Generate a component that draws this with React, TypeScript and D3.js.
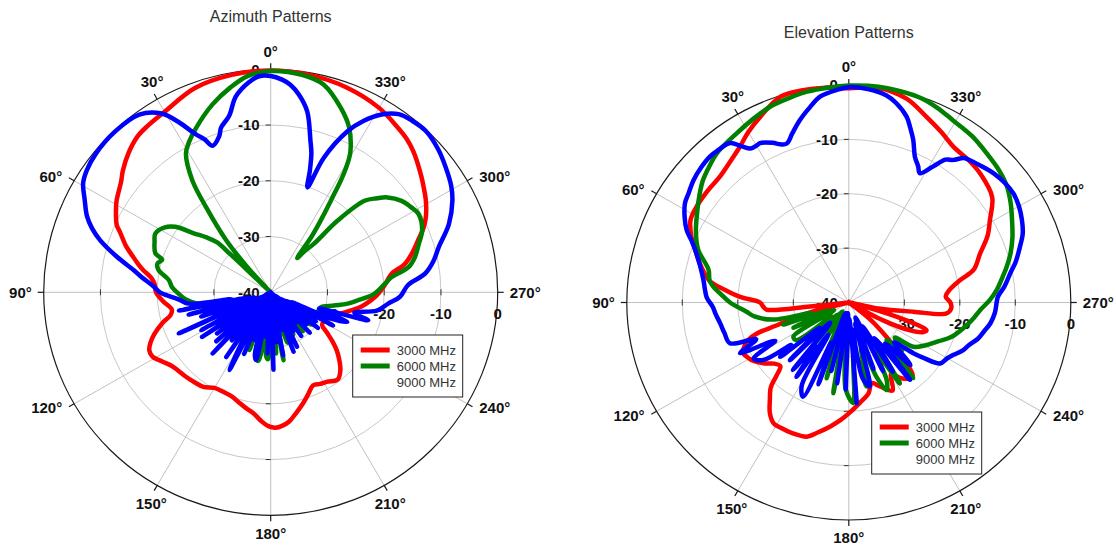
import React from 'react';
import * as d3 from 'd3';

// [angle in degrees, level in dB]
type Pt = [number, number];

const AZ_3000: Pt[] = [
  [0, -0.2], [10, -0.4], [20, -1.0], [30, -2.6], [36, -3.1], [40, -3.5], [45, -4.6], [50, -6.0], [53, -7.0],
  [59, -8.3], [63, -9.4], [66, -10.3], [68, -11.4], [72, -13.2], [75, -14.8], [78, -16.2], [80, -17.2], [83, -18.8],
  [86, -19.5], [90, -19.8], [95, -21], [100, -22.3], [103, -21.9], [106, -20.2], [110, -18.2], [113, -17],
  [116, -16.2], [119, -16.2], [123, -17.2], [127, -18.1], [131, -18.5], [135, -18.7], [140, -19], [145, -19.3],
  [150, -20.2], [155, -20.3], [160, -20.1], [164, -19.5], [168, -18.8], [172, -18.1], [176, -16.8], [179, -16],
  [182, -15.7], [185, -16], [188, -16.6], [192, -18], [196, -19.3], [200, -20.6], [204, -21.7], [208, -21.4],
  [212, -21.1], [217, -20.4], [221, -21.3], [224.5, -22.7], [228, -24.3], [231, -26], [234, -27.8], [237, -29.2],
  [241, -29.3], [246, -28.6], [250, -27.8], [253, -27], [257, -25.5], [261, -23.8], [265, -22.4], [268, -21.4],
  [272, -20.3], [276, -19.3], [279, -18.4], [282, -15.9], [286, -14], [290, -12.3], [293, -10.8], [296, -9.6],
  [301, -8.1], [305, -7.1], [308, -6.3], [315, -4.4], [319, -3.5], [323, -2.9], [330, -1.8], [340, -0.9], [350, -0.4],
];

const AZ_6000: Pt[] = [
  [0, -0.3], [6, -1.0], [11, -2.6], [17, -4.8], [24, -7.7], [28, -9.4], [31, -11], [34.5, -15.6], [36.7, -20.9],
  [40, -27.8], [42.6, -34.5], [44, -39], [45, -40], [46, -34], [46.2, -30], [46.5, -27], [49, -25], [52, -22.8],
  [55, -19.5], [58, -18], [62.6, -17.1], [66, -17.6], [71, -18.5], [73, -20], [75.5, -19.4], [78.5, -19.8],
  [83, -21.9], [87, -22.6], [91, -23.8], [95, -25], [99, -27], [102, -33], [105, -29], [108, -35], [112, -30.2],
  [116, -36], [120, -30.2], [123, -31], [126, -33], [129, -30.5], [132, -31], [135, -37], [138, -31.5],
  [141, -31.3], [145, -38], [150, -30], [155, -38], [160, -29], [164, -36], [167, -28], [170, -27.5], [173, -36],
  [176, -28.5], [178, -28], [181, -37], [185, -29], [188, -36], [190.5, -27.6], [194, -35], [198, -30.5],
  [203, -37], [208, -31.5], [213, -36], [219, -31], [225, -35], [231, -30.8], [237, -33], [243, -31.5], [248, -31],
  [253, -30.8], [258, -28.6], [261.5, -26.3], [265, -24.4], [269, -21.8], [274.4, -19.8], [277.3, -18.5],
  [280.5, -15.3], [284, -13.8], [288.4, -12.5], [292.6, -11.1], [298.3, -10.4], [302, -11], [305.4, -11.7],
  [309.6, -13.3], [312, -14.8], [314.8, -16.7], [317.5, -22.6], [318.8, -28.4], [321, -30.5], [322.8, -32.3],
  [324.3, -27.5], [326, -23.5], [327.2, -20.4], [328.5, -16], [330, -12.5], [331, -11], [334.9, -7.4],
  [339.5, -4.7], [345.9, -1.6], [352, -0.6],
];

const AZ_9000: Pt[] = [
  [0, -1.2], [3, -1.2], [6, -2.2], [10, -4.4], [13, -7.5], [16.5, -9.2], [18, -10.6], [21.3, -11.8], [23, -10.2],
  [25, -8.7], [28, -5.4], [31, -2.6], [36, -0.6], [43.5, -0.2], [51, -0.4], [56, -0.9], [59.4, -1.6], [63, -3.2],
  [67.2, -4.9], [70, -6.5], [72.7, -8.5], [76.7, -12.1], [80.6, -15.5], [83, -17], [87, -19.3], [90, -20.5],
  [92.8, -22.6], [95, -24], [98, -25.4], [100, -33], [101.5, -23.5], [104, -36], [105.5, -25], [108, -37],
  [109.5, -27], [112, -34], [114.5, -22.2], [117.5, -38], [119, -26], [122, -39], [123.5, -25.5], [126.5, -40],
  [128, -28], [131, -40], [132.5, -27], [135.5, -40], [137, -25], [140, -40], [141.5, -29], [144.5, -40], [146, -26],
  [149, -40], [150.5, -30], [152.5, -24.3], [155.5, -40], [157, -28], [160, -40], [161.5, -31], [164.5, -40],
  [166, -28.5], [168, -27.6], [171, -40], [172.5, -32], [175.5, -40], [177, -29], [180, -40], [182, -26.1],
  [185, -40], [186.5, -31], [189.5, -40], [191, -28.5], [194, -40], [195.5, -33], [198.5, -40], [200.7, -28.6],
  [203.5, -40], [205.4, -29.2], [208.5, -40], [210, -32], [213, -40], [214.5, -30.5], [217.5, -40], [219, -33],
  [222, -40], [223.5, -30], [226.5, -39], [228, -31.5], [231, -39], [232.5, -29.5], [235.5, -38], [237, -30.5],
  [240, -37], [241.5, -27.5], [244.5, -36], [246, -28.5], [248.5, -25.5], [251, -31], [253.7, -22.1], [256, -24.8],
  [260, -21], [264.4, -19.2], [268, -17.2], [273, -15.8], [277, -12.6], [281, -10.8], [285.3, -9.3], [291.3, -6.3],
  [297.2, -4], [301, -2.9], [305.9, -1.9], [311, -0.9], [316.7, -0.2], [321, -0.4], [324.8, -0.9], [328.5, -2.6],
  [332, -5.2], [334.9, -8.1], [338.8, -14.1], [341, -20.1], [342.5, -17], [344, -14], [345.5, -12], [348.8, -6.9],
  [352, -4.2], [354.7, -2.6], [357, -1.8],
];

const EL_3000: Pt[] = [
  [0, -0.6], [6, -0.3], [12, -0.1], [18, -0.2], [25, -2.3], [30, -3.8], [34.5, -5.3], [40, -6.5], [45, -7.2],
  [51, -7.3], [57, -7.4], [62, -7.7], [67, -9.2], [71, -10.8], [75, -12.2], [81, -14.6], [84, -17.5], [87, -20.4],
  [90, -24], [93, -24.6], [95, -25.1], [96, -33], [97, -40], [101, -40], [104, -34], [106, -30], [108, -26],
  [109, -22.5], [110.8, -20.6], [113, -19.6], [116, -18.8], [118.5, -19.1], [121, -19.5], [126, -21], [130, -22.5],
  [133.5, -23], [136, -21.2], [138, -19], [141.6, -17.1], [145, -15.2], [148.5, -14], [152, -13.9], [157, -13.9],
  [163, -14.2], [167, -15.5], [171.5, -16.9], [176, -18.3], [180, -19.6], [186, -21.4], [192, -22.9],
  [195.5, -24.6], [200, -23.6], [206, -22], [210, -24.8], [214, -23.2], [220, -22.1], [224, -26.5], [227, -30.7],
  [231, -35], [235, -40], [239, -40], [242, -33], [245, -28], [248, -25.5], [250, -25.1], [252, -28],
  [254.5, -34.8], [256, -40], [258, -35], [261.7, -28.3], [263.6, -22.2], [267, -21.5], [270, -21.7],
  [273.5, -22.5], [277, -21.8], [281.6, -19.5], [285, -16.7], [290.8, -14.7], [296, -12.2], [300.8, -10.4],
  [306.9, -7.7], [315, -6.5], [320, -6.1], [326.7, -5.7], [332, -4.5], [337.7, -3.1], [344.5, -1.1], [352, -0.2],
];

const EL_6000: Pt[] = [
  [0, -0.1], [5, -0.3], [11, -0.5], [16, -0.9], [21.5, -1.3], [27, -2.1], [33, -2.9], [41, -3.7], [45, -4.5],
  [49.4, -5.4], [54, -6.7], [59, -8.1], [65, -9.6], [70.4, -11.2], [76.5, -14.0], [80.9, -14.6], [83.2, -15.4],
  [86, -16.8], [90, -18.6], [95.3, -21.5], [98.6, -22.8], [103, -26], [106, -33], [109, -27.5], [112, -36],
  [115, -29], [118, -37], [122.2, -28.2], [126.3, -28.3], [130, -36], [134, -30], [138, -37], [141, -29.5],
  [145, -38], [148, -30], [152, -37], [156.5, -28.5], [160, -36], [164, -25.5], [167, -35], [170.5, -23.1],
  [174, -33], [178, -24], [182.5, -21.5], [186, -31], [191.7, -24.2], [196, -32], [200, -25.5], [202.9, -22.5],
  [205.6, -24.2], [208, -30], [211.7, -22.5], [215, -31], [219.8, -21.9], [222, -28.5], [224.6, -30.3],
  [228, -27], [232, -29.5], [235, -25.8], [240, -24.2], [246.3, -22.3], [251, -20.5], [257.2, -18.8],
  [262, -17.5], [266.6, -16.3], [271, -14.6], [275.1, -13.2], [279.6, -11.9], [283, -10.8], [287.2, -9.5],
  [292, -8.2], [297.3, -6.9], [302, -5.6], [306.8, -4.4], [312, -3.6], [317.7, -3.0], [324, -2.2], [330.7, -1.6],
  [336, -0.8], [341.3, -0.2], [350, 0], [355, 0],
];

const EL_9000: Pt[] = [
  [0, -0.4], [3, -0.8], [7.8, -1.8], [11, -3.4], [14.7, -5.3], [18, -7.2], [20.9, -8.7], [23, -8.4], [25, -7.6],
  [28.6, -6.6], [30, -6.7], [32, -6.6], [34, -5.3], [36.1, -3.7], [40, -3.4], [43, -3.3], [47, -3.6], [51.2, -4.1],
  [55, -4.8], [58.3, -5.3], [62, -6.5], [65.5, -7.9], [68, -9.4], [71.8, -11.1], [76, -12.4], [81.1, -13.5],
  [85, -14], [88, -14.4], [92, -15.5], [95, -15.9], [99.3, -16.5], [104, -16.9], [109.3, -17.3], [112, -22],
  [115.4, -18.3], [118, -25], [121, -20], [124.5, -21.3], [127, -27], [128.9, -24.1], [132, -33], [135, -25],
  [138, -35], [141, -24], [143, -30], [145.4, -23.4], [148, -33], [151, -22.5], [154.6, -20.8], [157, -32],
  [160, -24], [163, -38], [166, -27], [169, -38], [172, -25], [175, -38], [178, -24], [181, -37], [184.4, -21.4],
  [187, -35], [190, -26], [193.8, -24.1], [197, -36], [200, -27], [203, -37], [206, -26], [209, -35], [212, -25],
  [215, -32], [217.8, -22], [221, -30], [224, -24], [228, -29], [231.3, -25.1], [233, -23], [235.7, -20.1],
  [240, -19.5], [243, -18.8], [247, -17.6], [250, -17], [254, -15.8], [258, -15], [261.5, -14.2], [266, -13.6],
  [272.3, -13.1], [276, -11.8], [280.5, -10.4], [284, -9], [288.4, -7.5], [292, -6.2], [296, -5.3], [300, -4.6],
  [304, -4.2], [308, -4.3], [312.3, -4.7], [316, -5.3], [320, -5.9], [322, -6.3], [324.3, -7.7], [326.5, -8.5],
  [328.7, -10.7], [331.7, -13], [333.5, -12], [336, -10.7], [338.8, -7.9], [341, -6], [343, -4.3], [347, -2.3],
  [350, -1.3], [355, -0.6],
];

const SERIES_NAMES = ['3000 MHz', '6000 MHz', '9000 MHz'];
const SERIES_COLORS = ['#ff0000', '#008000', '#0000ff'];
const LEGEND_SWATCH = [true, true, false]; // the 9000 MHz entry has no line in the original
const RING_VALUES = [-40, -30, -20, -10, 0];
const ANGLE_TICKS = d3.range(0, 360, 30);

const FONT = "Arial, 'Liberation Sans', Helvetica, sans-serif";

interface PanelProps {
  title: string;
  titleY: number;
  cx: number;
  cy: number;
  rx: number;
  ry: number;
  series: Pt[][];
  legendX: number;
  legendY: number;
}

const rScale = d3.scaleLinear().domain([-40, 0]).range([0, 1]).clamp(true);
const rad = (deg: number) => (deg * Math.PI) / 180;

function Panel({ title, titleY, cx, cy, rx, ry, series, legendX, legendY }: PanelProps) {
  // 0° at top, angles grow counter-clockwise
  const px = (a: number, t: number) => cx - rx * t * Math.sin(rad(a));
  const py = (a: number, t: number) => cy - ry * t * Math.cos(rad(a));

  const line = d3
    .line<Pt>()
    .x((d) => px(d[0], rScale(d[1])))
    .y((d) => py(d[0], rScale(d[1])))
    .curve(d3.curveCatmullRomClosed.alpha(0.5));

  const ease = (u: number) => Math.max(0, Math.min(1, (u - 0.4) / 0.46));

  return (
    <g>
      <text x={cx} y={titleY} textAnchor="middle" fontFamily={FONT} fontSize={16} fill="#333">
        {title}
      </text>

      {/* rings */}
      {RING_VALUES.slice(1, -1).map((v) => (
        <ellipse key={v} cx={cx} cy={cy} rx={rx * rScale(v)} ry={ry * rScale(v)} fill="none" stroke="#c8c8c8" strokeWidth={1} />
      ))}

      {/* spokes */}
      {ANGLE_TICKS.map((a) => (
        <line key={a} x1={cx} y1={cy} x2={px(a, 1)} y2={py(a, 1)} stroke="#c0c0c0" strokeWidth={1} />
      ))}

      <ellipse cx={cx} cy={cy} rx={rx} ry={ry} fill="none" stroke="#1a1a1a" strokeWidth={1.2} />

      {/* angle ticks and labels */}
      {ANGLE_TICKS.map((a) => {
        const s = Math.sin(rad(a));
        const c = Math.cos(rad(a));
        const label = `${a}°`;
        const w = (label.length - 1) * 8.3 + 6;
        const ox = -Math.sign(s) * (w / 2 + 12) * ease(Math.abs(s));
        const oy = -Math.sign(c) * 18 * ease(Math.abs(c));
        const tx = px(a, 1);
        const ty = py(a, 1);
        return (
          <g key={a}>
            <line x1={tx} y1={ty} x2={cx - (rx + 6) * s} y2={cy - (ry + 6) * c} stroke="#1a1a1a" strokeWidth={1.2} />
            <text
              x={tx + ox}
              y={ty + oy}
              dy="0.36em"
              textAnchor="middle"
              fontFamily={FONT}
              fontSize={15}
              fontWeight="bold"
              fill="#111"
            >
              {label}
            </text>
          </g>
        );
      })}

      {/* ticks along the axes */}
      {RING_VALUES.slice(0, -1).map((v) => {
        const t = rScale(v);
        return (
          <g key={v} stroke="#333" strokeWidth={1}>
            <line x1={cx - 5} x2={cx} y1={cy - ry * t} y2={cy - ry * t} />
            <line x1={cx - 5} x2={cx} y1={cy + ry * t} y2={cy + ry * t} />
            <line x1={cx + rx * t} x2={cx + rx * t} y1={cy - 3} y2={cy + 3} />
            <line x1={cx - rx * t} x2={cx - rx * t} y1={cy - 3} y2={cy + 3} />
          </g>
        );
      })}

      {/* radial value labels */}
      {RING_VALUES.map((v) => (
        <text
          key={`v${v}`}
          x={cx - 11}
          y={cy - ry * rScale(v)}
          dy="0.36em"
          textAnchor="end"
          fontFamily={FONT}
          fontSize={15}
          fontWeight="bold"
          fill="#111"
        >
          {v}
        </text>
      ))}
      {RING_VALUES.slice(1).map((v) => (
        <text
          key={`h${v}`}
          x={cx + rx * rScale(v)}
          y={cy + 21}
          dy="0.36em"
          textAnchor="middle"
          fontFamily={FONT}
          fontSize={15}
          fontWeight="bold"
          fill="#111"
        >
          {v}
        </text>
      ))}

      {/* patterns */}
      {series.map((data, i) => (
        <path
          key={i}
          d={line(data) || ''}
          fill="none"
          stroke={SERIES_COLORS[i]}
          strokeWidth={4.5}
          strokeLinejoin="round"
        />
      ))}

      {/* legend */}
      <g transform={`translate(${legendX},${legendY})`}>
        <rect x={0} y={0} width={110} height={62} fill="#fff" stroke="#222" strokeWidth={1} />
        {SERIES_NAMES.map((name, i) => (
          <g key={name} transform={`translate(0,${15 + i * 16})`}>
            {LEGEND_SWATCH[i] && <line x1={8} x2={37} y1={0} y2={0} stroke={SERIES_COLORS[i]} strokeWidth={5} />}
            <text x={44} y={0} dy="0.36em" fontFamily={FONT} fontSize={13} fill="#333">
              {name}
            </text>
          </g>
        ))}
      </g>
    </g>
  );
}

export default function App() {
  return (
    <div style={{ position: 'absolute', left: 0, top: 0 }}>
      <svg width={1116} height={550} style={{ display: 'block', background: '#fff' }}>
        <Panel
          title="Azimuth Patterns"
          titleY={22}
          cx={270.7}
          cy={292.3}
          rx={227}
          ry={223}
          series={[AZ_3000, AZ_6000, AZ_9000]}
          legendX={352.7}
          legendY={335}
        />
        <Panel
          title="Elevation Patterns"
          titleY={38}
          cx={848.8}
          cy={302.5}
          rx={222}
          ry={217.5}
          series={[EL_3000, EL_6000, EL_9000]}
          legendX={871.7}
          legendY={412}
        />
      </svg>
    </div>
  );
}
